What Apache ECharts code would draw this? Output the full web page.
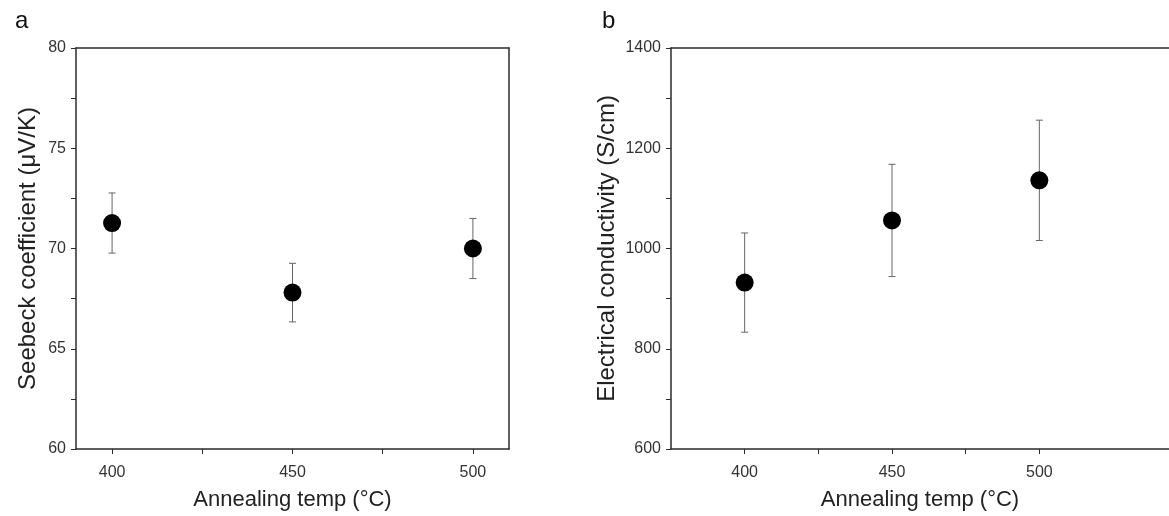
<!DOCTYPE html>
<html>
<head>
<meta charset="utf-8">
<script src="https://cdn.jsdelivr.net/npm/echarts@6/dist/echarts.min.js"></script>
<style>
  html, body { margin: 0; padding: 0; background: #fff; }
  #chart { width: 1169px; height: 516px; }
</style>
</head>
<body>
<div id="chart"></div>
<script>
// annealing temperatures (°C)
let temps = [400, 450, 500];
// panel a: Seebeck coefficient (µV/K) and its error
let seebeck = [71.27, 67.8, 70.0];
let seebeckErr = [1.5, 1.46, 1.5];
// panel b: electrical conductivity (S/cm) and its error
let sigma = [932, 1056, 1136];
let sigmaErr = [99, 112, 120];
// ticks / labels
let xTicks = [400, 425, 450, 475, 500];
let xLabels = [400, 450, 500];
let yTicksA = [60, 62.5, 65, 67.5, 70, 72.5, 75, 77.5, 80];
let yLabelsA = [60, 65, 70, 75, 80];
let yTicksB = [600, 700, 800, 900, 1000, 1100, 1200, 1300, 1400];
let yLabelsB = [600, 800, 1000, 1200, 1400];

let font = "'Liberation Sans', Arial, sans-serif";
let axisColor = "#2b2b2b";

function xAxisOpt(idx, min, max) {
  return {
    type: "value",
    gridIndex: idx,
    min: min,
    max: max,
    name: "Annealing temp (°C)",
    nameLocation: "middle",
    nameGap: 40,
    nameTextStyle: { fontFamily: font, fontSize: 22, color: "#222" },
    splitLine: { show: false },
    axisLine: { show: true, lineStyle: { color: axisColor, width: 1.5 } },
    axisTick: { show: true, inside: false, length: 5, customValues: xTicks, lineStyle: { color: axisColor } },
    axisLabel: {
      customValues: xLabels, fontFamily: font, fontSize: 16, color: "#333", margin: 16,
      formatter: (v) => String(v),
    },
  };
}
function xTopOpt(idx, min, max) {
  return {
    type: "value", gridIndex: idx, position: "top", min: min, max: max,
    axisLine: { show: true, lineStyle: { color: axisColor, width: 1.5 } },
    axisTick: { show: false }, axisLabel: { show: false }, splitLine: { show: false },
  };
}
function yAxisOpt(idx, min, max, ticks, labels, name, gap) {
  return {
    type: "value",
    gridIndex: idx,
    min: min,
    max: max,
    name: name,
    nameLocation: "middle",
    nameGap: gap,
    nameTextStyle: { fontFamily: font, fontSize: 24, color: "#222" },
    splitLine: { show: false },
    axisLine: { show: true, lineStyle: { color: axisColor, width: 1.5 } },
    axisTick: { show: true, inside: false, length: 5, customValues: ticks, lineStyle: { color: axisColor } },
    axisLabel: {
      customValues: labels, fontFamily: font, fontSize: 16, color: "#333", margin: 10,
      formatter: (v) => String(v),
    },
  };
}
function yRightOpt(idx, min, max) {
  return {
    type: "value", gridIndex: idx, position: "right", min: min, max: max,
    axisLine: { show: true, lineStyle: { color: axisColor, width: 1.5 } },
    axisTick: { show: false }, axisLabel: { show: false }, splitLine: { show: false },
  };
}

function errData(vals, errs) {
  return temps.map((t, i) => [t, vals[i] - errs[i], vals[i] + errs[i]]);
}
function errSeries(xi, yi, data) {
  return {
    type: "custom",
    xAxisIndex: xi,
    yAxisIndex: yi,
    data: data,
    z: 2,
    renderItem: function (params, api) {
      let lo = api.coord([api.value(0), api.value(1)]);
      let hi = api.coord([api.value(0), api.value(2)]);
      let w = 3.5;
      let st = { stroke: "#666", lineWidth: 1 };
      return {
        type: "group",
        children: [
          { type: "line", shape: { x1: lo[0], y1: lo[1], x2: hi[0], y2: hi[1] }, style: st },
          { type: "line", shape: { x1: lo[0] - w, y1: lo[1], x2: lo[0] + w, y2: lo[1] }, style: st },
          { type: "line", shape: { x1: hi[0] - w, y1: hi[1], x2: hi[0] + w, y2: hi[1] }, style: st },
        ],
      };
    },
  };
}

let chart = echarts.init(document.getElementById("chart"));
let option = {
  animation: false,
  backgroundColor: "#fff",
  title: [
    { text: "a", left: 10, top: 4, textStyle: { fontFamily: font, fontSize: 24, fontWeight: "normal", color: "#111" } },
    { text: "b", left: 597, top: 4, textStyle: { fontFamily: font, fontSize: 24, fontWeight: "normal", color: "#111" } },
  ],
  grid: [
    { left: 76, top: 48, right: 660, bottom: 64 },
    { left: 671, top: 48, right: 0, bottom: 63 },
  ],
  xAxis: [
    xAxisOpt(0, 390, 510),
    xAxisOpt(1, 375, 544),
    xTopOpt(0, 390, 510),
    xTopOpt(1, 375, 544),
  ],
  yAxis: [
    yAxisOpt(0, 60, 80, yTicksA, yLabelsA, "Seebeck coefficient (μV/K)", 36),
    yAxisOpt(1, 600, 1400, yTicksB, yLabelsB, "Electrical conductivity (S/cm)", 52),
    yRightOpt(0, 60, 80),
  ],
  series: [
    errSeries(0, 0, errData(seebeck, seebeckErr)),
    {
      type: "scatter", xAxisIndex: 0, yAxisIndex: 0, z: 3,
      symbol: "circle", symbolSize: 18,
      itemStyle: { color: "#000", opacity: 1 },
      data: temps.map((t, i) => [t, seebeck[i]]),
    },
    errSeries(1, 1, errData(sigma, sigmaErr)),
    {
      type: "scatter", xAxisIndex: 1, yAxisIndex: 1, z: 3,
      symbol: "circle", symbolSize: 18,
      itemStyle: { color: "#000", opacity: 1 },
      data: temps.map((t, i) => [t, sigma[i]]),
    },
  ],
};
chart.setOption(option);
</script>
</body>
</html>
